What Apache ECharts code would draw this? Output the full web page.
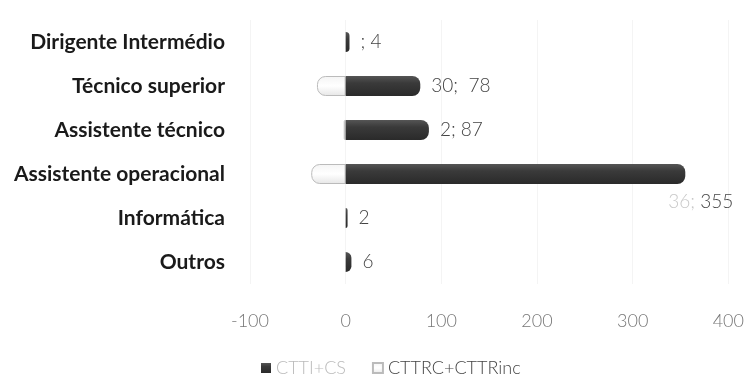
<!DOCTYPE html>
<html><head><meta charset="utf-8">
<script src="https://cdn.jsdelivr.net/npm/echarts@6/dist/echarts.min.js"></script>
<style>html,body{margin:0;padding:0;background:#fff}#c{width:747px;height:385px}</style>
</head><body><div id="c"></div>
<script>
const categories = ["Dirigente Intermédio","Técnico superior","Assistente técnico","Assistente operacional","Informática","Outros"];
const ctti = [4, 78, 87, 355, 2, 6];
const cttrc = [null, 30, 2, 36, null, null];
const xTicks = [-100, 0, 100, 200, 300, 400];

const chart = echarts.init(document.getElementById('c'));
const catRev = categories.slice().reverse();
const cttiRev = ctti.slice().reverse();
const cttrcRev = cttrc.slice().reverse();

const darkGrad = new echarts.graphic.LinearGradient(0,0,0,1,[
  {offset:0,color:'#555'},{offset:0.35,color:'#3a3a3a'},{offset:1,color:'#2a2a2a'}]);
const lightGrad = new echarts.graphic.LinearGradient(0,0,0,1,[
  {offset:0,color:'#f4f4f4'},{offset:0.5,color:'#ffffff'},{offset:1,color:'#e6e6e6'}]);

chart.setOption({
  animation:false,
  grid:{left:250,right:7,top:20,height:264},
  xAxis:{type:'value',min:-100,max:400,interval:100,
    axisLine:{show:false},axisTick:{show:false},
    splitLine:{lineStyle:{color:'#f4f4f4'}},
    axisLabel:{margin:28,color:'#777',fontSize:18,fontFamily:'Lato',fontWeight:300,
      formatter:v=>xTicks.includes(v)?String(v):''}},
  yAxis:{type:'category',data:catRev,
    axisLine:{show:false},axisTick:{show:false},
    axisLabel:{margin:25,color:'#1a1a1a',fontSize:21,fontWeight:'bold',fontFamily:'Lato'}},
  legend:{bottom:3,left:256,itemWidth:10,itemHeight:10,itemGap:26,icon:'rect',
    textStyle:{fontSize:18,fontFamily:'Lato',fontWeight:300,color:'#555',padding:[0,0,0,0]},
    data:[{name:'CTTI+CS',textStyle:{color:'#bbb'}},{name:'CTTRC+CTTRinc',textStyle:{color:'#444'}}]},
  series:[
    {name:'CTTRC+CTTRinc',type:'bar',data:cttrcRev.map(v=>v==null?null:-v),barWidth:20,barGap:'-100%',
      itemStyle:{color:lightGrad,borderColor:'#bbb',borderWidth:1,borderRadius:[8,0,0,8]}},
    {name:'CTTI+CS',type:'bar',barWidth:20,
      data:cttiRev.map((v,i)=>{
        const item = {value:v};
        if (categories.length-1-i===3) {
          item.label={position:'right',distance:0,offset:[-17,28]};
        }
        return item;
      }),
      itemStyle:{color:darkGrad,borderRadius:[0,8,8,0]},
      label:{show:true,position:'right',distance:11,fontSize:19,fontFamily:'Lato',fontWeight:300,color:'#444',
        formatter:p=>{
          const lv = cttrcRev[p.dataIndex];
          const orig = categories.length-1-p.dataIndex;
          if (orig===0) return '; '+p.value;
          if (lv==null) return String(p.value);
          if (orig===3) return '{l|'+lv+';} '+p.value;
          if (orig===1) return lv+';  '+p.value;
          return lv+'; '+p.value;
        },
        rich:{l:{color:'#c8c8c8',fontSize:19,fontFamily:'Lato',fontWeight:300}}}}
  ]
});
</script></body></html>
